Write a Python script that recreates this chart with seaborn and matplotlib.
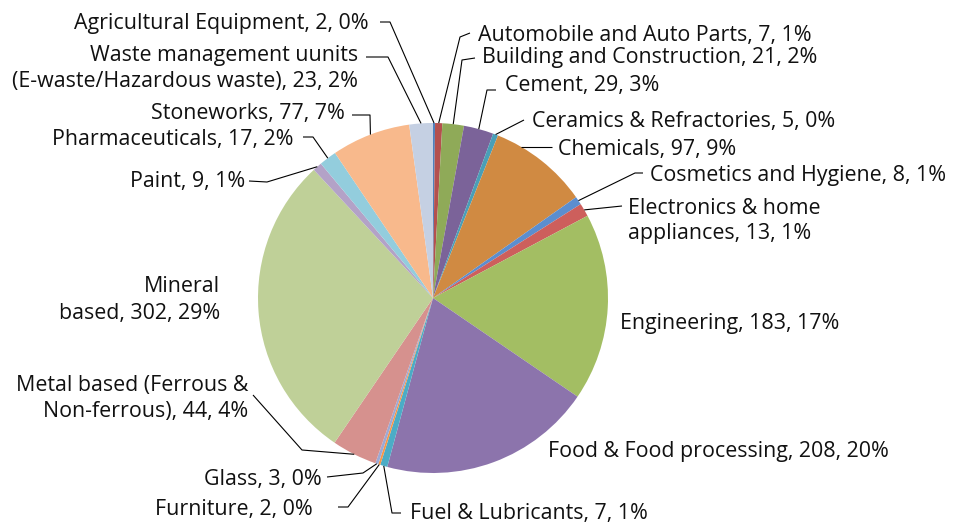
import numpy as np
import matplotlib
matplotlib.use("Agg")
import matplotlib.pyplot as plt
import seaborn as sns

# ---- data ----
categories = [
    "Agricultural Equipment", "Automobile and Auto Parts", "Building and Construction",
    "Cement", "Ceramics & Refractories", "Chemicals", "Cosmetics and Hygiene",
    "Electronics & home appliances", "Engineering", "Food & Food processing",
    "Fuel & Lubricants", "Furniture", "Glass",
    "Metal based (Ferrous & Non-ferrous)", "Mineral based", "Paint",
    "Pharmaceuticals", "Stoneworks",
    "Waste management uunits (E-waste/Hazardous waste)",
]
values = [2, 7, 21, 29, 5, 97, 8, 13, 183, 208, 7, 2, 3, 44, 302, 9, 17, 77, 23]
label_texts = [
    ["Agricultural Equipment, 2, 0%"],
    ["Automobile and Auto Parts, 7, 1%"],
    ["Building and Construction, 21, 2%"],
    ["Cement, 29, 3%"],
    ["Ceramics & Refractories, 5, 0%"],
    ["Chemicals, 97, 9%"],
    ["Cosmetics and Hygiene, 8, 1%"],
    ["Electronics & home", "appliances, 13, 1%"],
    ["Engineering, 183, 17%"],
    ["Food & Food processing, 208, 20%"],
    ["Fuel & Lubricants, 7, 1%"],
    ["Furniture, 2, 0%"],
    ["Glass, 3, 0%"],
    ["Metal based (Ferrous &", "Non-ferrous), 44, 4%"],
    ["Mineral", "based, 302, 29%"],
    ["Paint, 9, 1%"],
    ["Pharmaceuticals, 17, 2%"],
    ["Stoneworks, 77, 7%"],
    ["Waste management uunits", "(E-waste/Hazardous waste), 23, 2%"],
]
colors = [
    "#4F81BD", "#B4504E", "#8FAA58", "#7B6399", "#4A9FB7", "#D08A42",
    "#5B8ECF", "#CD5F5C", "#A3BE63", "#8C74AC", "#4BACC6", "#F79646",
    "#9DA9D4", "#D6918E", "#BFD098", "#B3A2C7", "#93CDDD", "#F8B98C", "#C5D0E3",
]

# ---- layout (pixel coordinates, origin top-left) ----
W, H = 957, 523
CX, CY, R = 433, 298, 175
# (x anchor, first-line centre y, alignment, leader points from text side, leader end mode)
label_layout = [
    (369, 22, "right", [(380, 22), (390, 22)], "mid"),
    (478, 33, "left", [(470, 33), (460, 37)], "mid"),
    (482, 56, "left", [(475, 58), (462, 60)], "mid"),
    (505, 84, "left", [(496, 90), (487, 90)], "mid"),
    (532, 119, "left", [(524, 120)], "mid"),
    (558, 147, "left", [(552, 147)], "horiz"),
    (650, 173, "left", [(643, 173), (635, 173)], "mid"),
    (628, 206, "left", [(622, 206)], "mid"),
    (620, 321, "left", [], None),
    (548, 449, "left", [], None),
    (410, 512, "left", [(401, 513), (392, 513)], "mid"),
    (313, 508, "right", [(338, 507), (348, 507)], "mid"),
    (322, 478, "right", [(327, 477), (363, 473)], "mid"),
    (248, 384, "right", [(253, 395), (302, 450)], "mid"),
    (220, 285, "right", [], None),
    (245, 180, "right", [(249, 181), (267, 182)], "mid"),
    (293, 138, "right", [(303, 137), (313, 137)], "mid"),
    (345, 112, "right", [(352, 115), (370, 115)], "mid"),
    (358, 53, "right", [(366, 57), (388, 57)], "mid"),
]
LINE_STEP = 26
FONT_SIZE = 15.4
CAP = 15.0

sns.set_theme(style="white")
plt.rcParams["font.family"] = ["Open Sans", "DejaVu Sans"]

fig = plt.figure(figsize=(W / 100, H / 100), dpi=100)
ax = fig.add_axes([0, 0, 1, 1])


def P(x, y):
    return x, H - y


ax.pie(values, colors=colors, startangle=90, counterclock=False,
       center=P(CX, CY), radius=R, wedgeprops=dict(linewidth=0, antialiased=True))
ax.set_xlim(0, W)
ax.set_ylim(0, H)
ax.set_aspect("equal")
ax.axis("off")

total = float(sum(values))
cum = np.cumsum([0] + values)
for i, (lines, lay) in enumerate(zip(label_texts, label_layout)):
    x, y0, ha, pts, mode = lay
    for k, line in enumerate(lines):
        yb = y0 + k * LINE_STEP + CAP / 2
        ax.text(*P(x, yb), line, ha=ha, va="baseline", fontsize=FONT_SIZE,
                color="#111111")
    if mode is None:
        continue
    if mode == "mid":
        frac = (cum[i] + values[i] / 2) / total
        ang = np.deg2rad(90 - 360 * frac)
        ex, ey = CX + R * np.cos(ang), CY - R * np.sin(ang)
    else:
        ly = pts[-1][1]
        ex, ey = CX + np.sqrt(R ** 2 - (CY - ly) ** 2), ly
    xs = [p[0] for p in pts] + [ex]
    ys = [H - p[1] for p in pts] + [H - ey]
    ax.plot(xs, ys, color="black", linewidth=0.8, solid_capstyle="butt")

fig.savefig("out.png", dpi=100, facecolor="white")
